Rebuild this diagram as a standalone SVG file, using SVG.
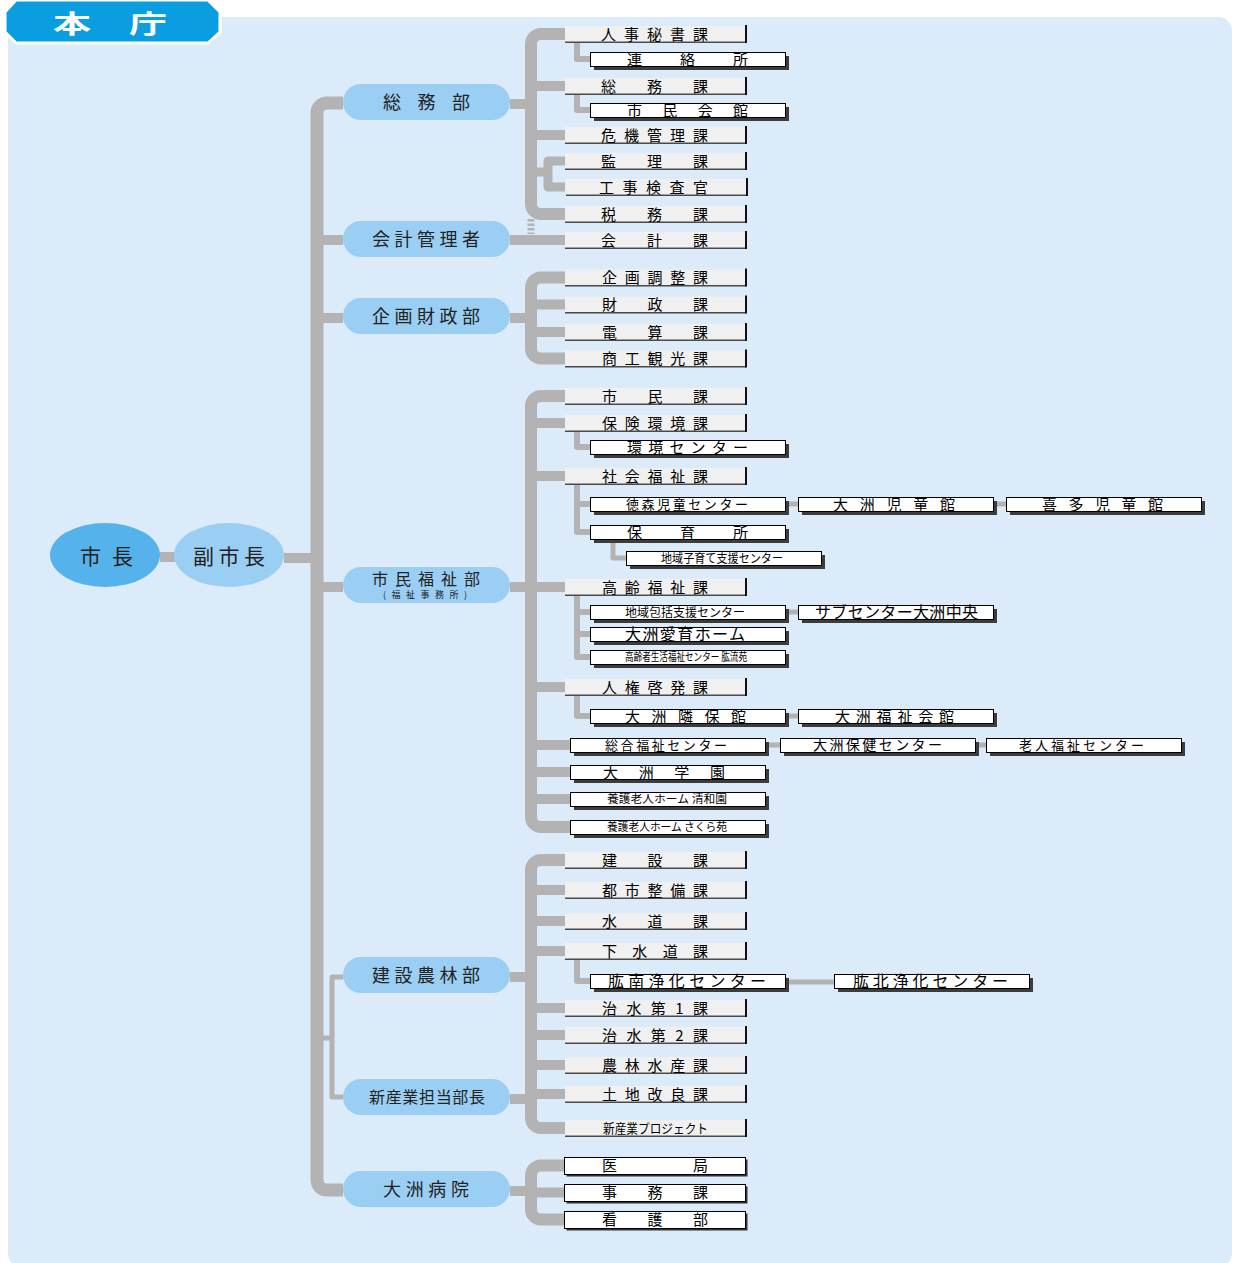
<svg xmlns="http://www.w3.org/2000/svg" width="1238" height="1263" viewBox="0 0 1238 1263">
<style>
text{font-family:"Noto Sans CJK JP","Noto Sans",sans-serif;dominant-baseline:central;fill:#000;transform:translateY(-1px)}
.p text,.pt{fill:#222}
.g{fill:none;stroke:#B3B3B3;stroke-linejoin:round}
.w13{stroke-width:13}.w12{stroke-width:12}.w10{stroke-width:10}.w9{stroke-width:9}.w6{stroke-width:6}.w5{stroke-width:5}
.pill{fill:#9BCEF3}
.f11{font-size:11px}.f12{font-size:12px}.f13{font-size:13px}.f14{font-size:14px}.f15{font-size:15px}.f16{font-size:16px}.f18{font-size:18px}.f21{font-size:21px}
.hd{font-size:25px;font-weight:bold;fill:#fff}
</style>
<defs>
<g id="bA"><rect width="180" height="16" fill="#F0F0F0"/><rect y="15.5" width="181" height="1.5" fill="#4A4A4A"/><rect x="180" y="-1" width="2" height="18" fill="#111"/></g>
<g id="bB"><rect x="4" y="4" width="195" height="14" fill="#3C3C3C"/><rect x="0.5" y="0.5" width="195" height="14" fill="#fff" stroke="#000"/></g>
<g id="bC"><rect x="2.5" y="2.5" width="181" height="17" fill="#333"/><rect x="0.5" y="0.5" width="181" height="17" fill="#fff" stroke="#000"/></g>
</defs>
<rect x="8" y="17" width="1224" height="1250" rx="14" fill="#DBEBF9"/>
<g id="header"><polygon points="5,12 16,0 208,0 220,12 220,32 208,43 16,43 5,32" fill="#0A9EE0" stroke="#fff" stroke-width="3"/><text class="hd" x="53" y="23" textLength="114" lengthAdjust="spacingAndGlyphs">本　庁</text></g>

<g id="connectors" class="g">
<path class="w10" d="M160 557H175M284 558H317"/>
<path class="w13" d="M343 103H327A10 10 0 0 0 317 113V1180A10 10 0 0 0 327 1190H343"/>
<path class="w10" d="M317 240H343M317 318H343M317 587H343"/>
<path class="w5" d="M317 1038H332M343 977H332V1097H343"/>
<path class="w10" d="M510 104H531M531 86H565M531 135H565"/>
<path class="w12" d="M565 34H541A10 10 0 0 0 531 44V204A10 10 0 0 0 541 214H565"/>
<path class="w9" d="M531 172H548M565 161H548V187H565"/>
<path class="w6" d="M577 42V59H590M577 94V110H590"/>
<path class="w10" d="M510 240H565"/>
<path d="M531 219V234" style="stroke-width:7;stroke-dasharray:2.5 2"/>
<path class="w10" d="M510 318H531M531 304.5H565M531 332H565"/>
<path class="w12" d="M565 277.5H541A10 10 0 0 0 531 287.5V348.5A10 10 0 0 0 541 358.5H565"/>
<path class="w10" d="M510 587H531M531 423H565M531 476H565M531 587H565M531 687H565M531 745H570M531 772H570M531 799H570"/>
<path class="w12" d="M565 396H541A10 10 0 0 0 531 406V817A10 10 0 0 0 541 827H570"/>
<path class="w6" d="M577 431V447H590M577 484V532H590M577 504H590M577 595V657H590M577 612H590M577 634H590M577 695V716H590"/>
<path class="w5" d="M613 539V558H626M786 504H798M993 504H1006M786 612H798M786 716H799M765 745H780M974 745H986"/>
<path class="w10" d="M510 977H531M510 1099H531M531 890H565M531 921H565M531 951H565M531 1008H565M531 1035H565M531 1065H565M531 1094H565"/>
<path class="w12" d="M565 860H541A10 10 0 0 0 531 870V1118A10 10 0 0 0 541 1128H565"/>
<path class="w6" d="M577 959V981H590"/>
<path class="w5" d="M786 982H834"/>
<path class="w10" d="M510 1191H531M531 1192.5H564"/>
<path class="w12" d="M564 1165.5H541A10 10 0 0 0 531 1175.5V1209.5A10 10 0 0 0 541 1219.5H564"/>
</g>

<g id="mayor"><ellipse cx="105" cy="555" rx="55" ry="32" fill="#56B2EA"/><text class="f21 pt" x="80" y="556" textLength="53">市 長</text></g>
<g id="vicemayor"><ellipse cx="229" cy="555" rx="55" ry="32" fill="#9BCEF3"/><text class="f21 pt" x="193" y="556" textLength="72">副市長</text></g>

<g id="d-somu" class="p"><rect class="pill" x="343" y="84" width="167" height="36" rx="18"/><text class="f18" x="383" y="102" textLength="87">総　務　部</text></g>
<g id="d-kaikei" class="p"><rect class="pill" x="343" y="221" width="167" height="36" rx="18"/><text class="f18" x="372" y="239" textLength="108">会計管理者</text></g>
<g id="d-kikaku" class="p"><rect class="pill" x="343" y="298" width="167" height="36" rx="18"/><text class="f18" x="372" y="316" textLength="108">企画財政部</text></g>
<g id="d-shimin" class="p"><rect class="pill" x="343" y="567" width="167" height="36" rx="18"/><text class="f16" x="372" y="579" textLength="108">市民福祉部</text><text x="383" y="595.5" style="font-size:9px" textLength="84">(福祉事務所)</text></g>
<g id="d-kensetsu" class="p"><rect class="pill" x="343" y="957" width="167" height="36" rx="18"/><text class="f18" x="372" y="975" textLength="108">建設農林部</text></g>
<g id="d-shinsangyo" class="p"><rect class="pill" x="343" y="1079" width="167" height="36" rx="18"/><text class="f16" x="369" y="1097" textLength="116">新産業担当部長</text></g>
<g id="d-byoin" class="p"><rect class="pill" x="343" y="1171" width="167" height="36" rx="18"/><text class="f18" x="383" y="1189" textLength="86">大洲病院</text></g>

<g id="n1"><use href="#bA" x="565" y="26"/><text class="f15" x="601" y="34" textLength="107">人事秘書課</text></g>
<g id="n2"><use href="#bB" x="590" y="52"/><text class="f15" x="627" y="59" textLength="121">連　絡　所</text></g>
<g id="n3"><use href="#bA" x="565" y="78"/><text class="f15" x="601" y="86" textLength="107">総　務　課</text></g>
<g id="n4"><use href="#bB" x="590" y="103"/><text class="f15" x="627" y="110" textLength="121">市民会館</text></g>
<g id="n5"><use href="#bA" x="565" y="127"/><text class="f15" x="601" y="135" textLength="107">危機管理課</text></g>
<g id="n6"><use href="#bA" x="565" y="153"/><text class="f15" x="601" y="161" textLength="107">監　理　課</text></g>
<g id="n7"><use href="#bA" x="566" y="179"/><text class="f15" x="599" y="187" textLength="109">工事検査官</text></g>
<g id="n8"><use href="#bA" x="565" y="206"/><text class="f15" x="601" y="214" textLength="107">税　務　課</text></g>
<g id="n9"><use href="#bA" x="565" y="232"/><text class="f15" x="601" y="240" textLength="107">会　計　課</text></g>
<g id="n10"><use href="#bA" x="565" y="269.5"/><text class="f15" x="602" y="277.5" textLength="106">企画調整課</text></g>
<g id="n11"><use href="#bA" x="565" y="296.5"/><text class="f15" x="602" y="304.5" textLength="106">財　政　課</text></g>
<g id="n12"><use href="#bA" x="565" y="324"/><text class="f15" x="602" y="332" textLength="106">電　算　課</text></g>
<g id="n13"><use href="#bA" x="565" y="350.5"/><text class="f15" x="602" y="358.5" textLength="106">商工観光課</text></g>
<g id="n14"><use href="#bA" x="565" y="388"/><text class="f15" x="602" y="396" textLength="106">市　民　課</text></g>
<g id="n15"><use href="#bA" x="565" y="415"/><text class="f15" x="602" y="423" textLength="106">保険環境課</text></g>
<g id="n16"><use href="#bB" x="590" y="440"/><text class="f15" x="627" y="447" textLength="121">環境センター</text></g>
<g id="n17"><use href="#bA" x="565" y="468"/><text class="f15" x="602" y="476" textLength="106">社会福祉課</text></g>
<g id="n18"><use href="#bB" x="590" y="497"/><text class="f13" x="626" y="504" textLength="122">徳森児童センター</text></g>
<g id="n19"><use href="#bB" x="798" y="497"/><text class="f15" x="833" y="504" textLength="122">大洲児童館</text></g>
<g id="n20"><use href="#bB" x="1006" y="497"/><text class="f15" x="1042" y="504" textLength="121">喜多児童館</text></g>
<g id="n21"><use href="#bB" x="590" y="525"/><text class="f15" x="627" y="532" textLength="121">保育所</text></g>
<g id="n22"><use href="#bB" x="626" y="551"/><text class="f12" x="661" y="558" textLength="122" lengthAdjust="spacingAndGlyphs">地域子育て支援センター</text></g>
<g id="n23"><use href="#bA" x="565" y="579"/><text class="f15" x="602" y="587" textLength="106">高齢福祉課</text></g>
<g id="n24"><use href="#bB" x="590" y="605"/><text class="f12" x="625" y="612" textLength="120">地域包括支援センター</text></g>
<g id="n25"><use href="#bB" x="798" y="605"/><text class="f16" x="815" y="612" textLength="163">サブセンター大洲中央</text></g>
<g id="n26"><use href="#bB" x="590" y="627"/><text class="f16" x="625" y="634" textLength="120">大洲愛育ホーム</text></g>
<g id="n27"><use href="#bB" x="590" y="650"/><text class="f11" x="625" y="657" textLength="122" lengthAdjust="spacingAndGlyphs">高齢者生活福祉センター 肱流苑</text></g>
<g id="n28"><use href="#bA" x="565" y="679"/><text class="f15" x="602" y="687" textLength="106">人権啓発課</text></g>
<g id="n29"><use href="#bB" x="590" y="709"/><text class="f15" x="625" y="716" textLength="121">大洲隣保館</text></g>
<g id="n30"><use href="#bB" x="798" y="709"/><text class="f15" x="835" y="716" textLength="119">大洲福祉会館</text></g>
<g id="n31"><use href="#bB" x="570" y="738"/><text class="f13" x="605" y="745" textLength="122">総合福祉センター</text></g>
<g id="n32"><use href="#bB" x="780" y="738"/><text class="f14" x="813" y="745" textLength="129">大洲保健センター</text></g>
<g id="n33"><use href="#bB" x="986" y="738"/><text class="f13" x="1019" y="745" textLength="125">老人福祉センター</text></g>
<g id="n34"><use href="#bB" x="570" y="765"/><text class="f15" x="603" y="772" textLength="122">大洲学園</text></g>
<g id="n35"><use href="#bB" x="570" y="792"/><text class="f11" x="607" y="799" textLength="120" lengthAdjust="spacingAndGlyphs">養護老人ホーム 清和園</text></g>
<g id="n36"><use href="#bB" x="570" y="820"/><text class="f11" x="607" y="827" textLength="120" lengthAdjust="spacingAndGlyphs">養護老人ホーム さくら苑</text></g>
<g id="n37"><use href="#bA" x="565" y="852"/><text class="f15" x="602" y="860" textLength="106">建　設　課</text></g>
<g id="n38"><use href="#bA" x="565" y="882"/><text class="f15" x="602" y="890" textLength="106">都市整備課</text></g>
<g id="n39"><use href="#bA" x="565" y="913"/><text class="f15" x="602" y="921" textLength="106">水　道　課</text></g>
<g id="n40"><use href="#bA" x="565" y="943"/><text class="f15" x="602" y="951" textLength="106">下水道課</text></g>
<g id="n41"><use href="#bB" x="590" y="974"/><text class="f16" x="608" y="981" textLength="158">肱南浄化センター</text></g>
<g id="n42"><use href="#bB" x="834" y="974"/><text class="f16" x="853" y="981" textLength="155">肱北浄化センター</text></g>
<g id="n43"><use href="#bA" x="565" y="1000"/><text class="f15" x="602" y="1008" textLength="106">治水第1課</text></g>
<g id="n44"><use href="#bA" x="565" y="1027"/><text class="f15" x="602" y="1035" textLength="106">治水第2課</text></g>
<g id="n45"><use href="#bA" x="565" y="1057"/><text class="f15" x="602" y="1065" textLength="106">農林水産課</text></g>
<g id="n46"><use href="#bA" x="565" y="1086"/><text class="f15" x="602" y="1094" textLength="106">土地改良課</text></g>
<g id="n47"><use href="#bA" x="565" y="1120"/><text class="f13" x="603" y="1128" textLength="105" lengthAdjust="spacingAndGlyphs">新産業プロジェクト</text></g>
<g id="n48"><use href="#bC" x="564" y="1157"/><text class="f15" x="602" y="1165.5" textLength="106">医局</text></g>
<g id="n49"><use href="#bC" x="564" y="1184"/><text class="f15" x="602" y="1192.5" textLength="106">事　務　課</text></g>
<g id="n50"><use href="#bC" x="564" y="1211"/><text class="f15" x="602" y="1219.5" textLength="106">看　護　部</text></g>
</svg>
